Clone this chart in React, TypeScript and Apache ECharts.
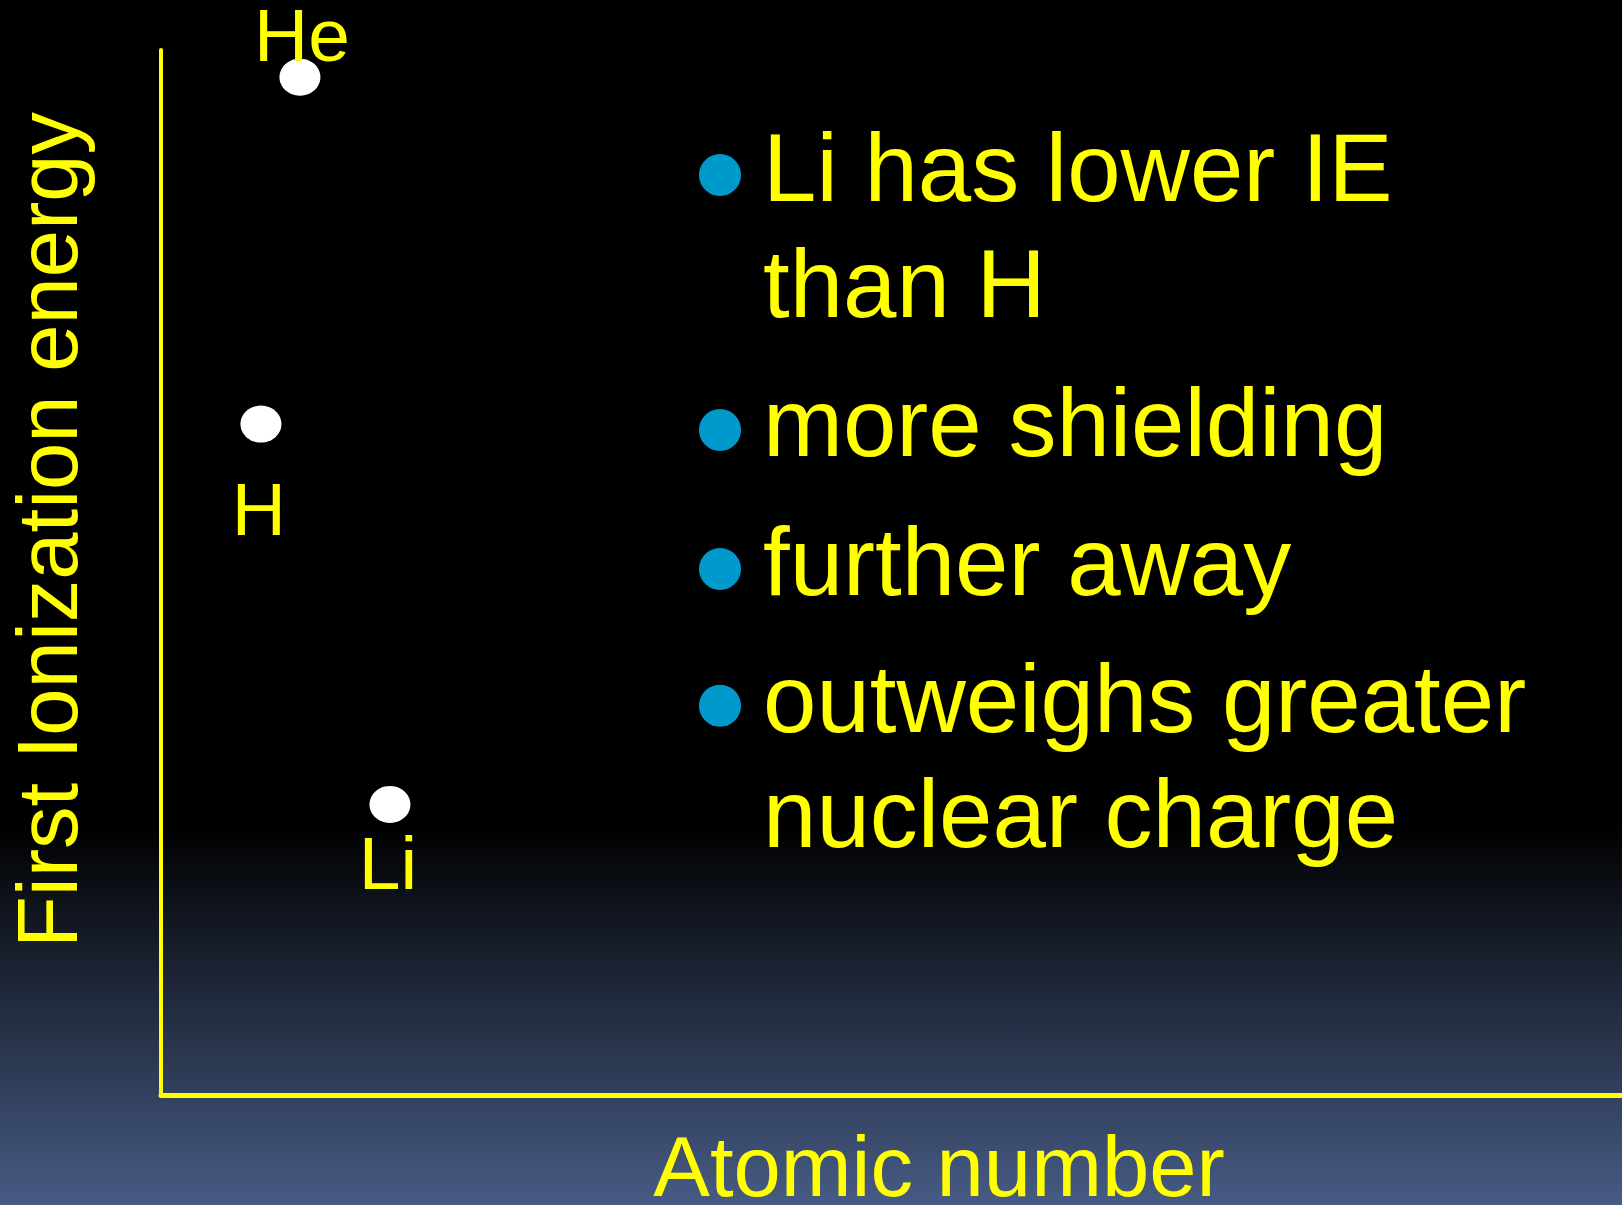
import React, { useEffect, useRef } from "react";
import * as echarts from "echarts";

const elements = ["H", "He", "Li"];
const atomicNumberPos = [6.84, 9.51, 15.67];
const ionizationEnergy = [64.2, 97.4, 27.8];
const bulletLines = [
  "Li has lower IE",
  "than H",
  "more shielding",
  "further away",
  "outweighs greater",
  "nuclear charge",
];
const bulletStarts = [true, false, true, true, true, false];

const FONT = '"Liberation Sans", Arial, sans-serif';
const YELLOW = "#ffff00";

// label offsets (style only)
const labelOffsets: Record<string, [number, number]> = {
  H: [-2, 85],
  He: [2, -42],
  Li: [-2, 59],
};

const baselines = [201, 317, 456, 595, 731.7, 846.7];

export default function App() {
  const ref = useRef<HTMLDivElement>(null);
  useEffect(() => {
    if (!ref.current) return;
    const chart = echarts.init(ref.current, undefined, { renderer: "svg" });
    const data = elements.map((e, i) => ({
      value: [atomicNumberPos[i], ionizationEnergy[i]],
      name: e,
      label: {
        show: true,
        position: "inside",
        offset: labelOffsets[e],
        formatter: e,
        color: YELLOW,
        fontSize: 75,
        lineHeight: 56,
        fontFamily: FONT,
      },
    }));
    const graphics: any[] = [];
    bulletLines.forEach((t, i) => {
      const base = baselines[i];
      graphics.push({
        type: "text",
        left: 763,
        top: base - 0.3465 * 96 - 48,
        style: {
          text: t,
          fill: YELLOW,
          font: `96px ${FONT}`,
          fontSize: 96,
          fontFamily: FONT,
          lineHeight: 96,
        },
      });
      if (bulletStarts[i]) {
        graphics.push({
          type: "circle",
          shape: { cx: 720, cy: base - 26, r: 21 },
          style: { fill: "#0099cc" },
        });
      }
    });
    chart.setOption({
      animation: false,
      backgroundColor: {
        type: "linear",
        x: 0,
        y: 0,
        x2: 0,
        y2: 1,
        colorStops: [
          { offset: 0, color: "#000000" },
          { offset: 0.685, color: "#000000" },
          { offset: 1, color: "#475b84" },
        ],
      },
      grid: {
        left: 161,
        right: 0,
        top: 50,
        bottom: 110,
        containLabel: false,
        outerBoundsMode: "none",
      },
      xAxis: {
        type: "value",
        min: 0,
        max: 100,
        name: "Atomic number",
        nameLocation: "middle",
        nameGap: 41,
        nameTextStyle: {
          color: YELLOW,
          fontSize: 85,
          fontFamily: FONT,
          lineHeight: 60,
          padding: [0, 0, 0, 95],
        },
        axisLine: { show: true, lineStyle: { color: YELLOW, width: 5 } },
        axisTick: { show: false },
        axisLabel: { show: false },
        splitLine: { show: false },
      },
      yAxis: {
        type: "value",
        min: 0,
        max: 100,
        name: "First Ionization energy",
        nameLocation: "middle",
        nameGap: 71,
        nameTextStyle: {
          color: YELLOW,
          fontSize: 85,
          fontFamily: FONT,
          lineHeight: 86,
          padding: [0, 0, 0, 85],
        },
        axisLine: { show: true, lineStyle: { color: YELLOW, width: 4 } },
        axisTick: { show: false },
        axisLabel: { show: false },
        splitLine: { show: false },
      },
      series: [
        {
          type: "scatter",
          symbol: "circle",
          symbolSize: [41, 37],
          itemStyle: { color: "#ffffff", opacity: 1 },
          data,
        },
      ],
      graphic: graphics,
    });
    return () => chart.dispose();
  }, []);
  return (
    <div
      ref={ref}
      style={{ position: "fixed", left: 0, top: 0, width: 1622, height: 1205 }}
    />
  );
}
